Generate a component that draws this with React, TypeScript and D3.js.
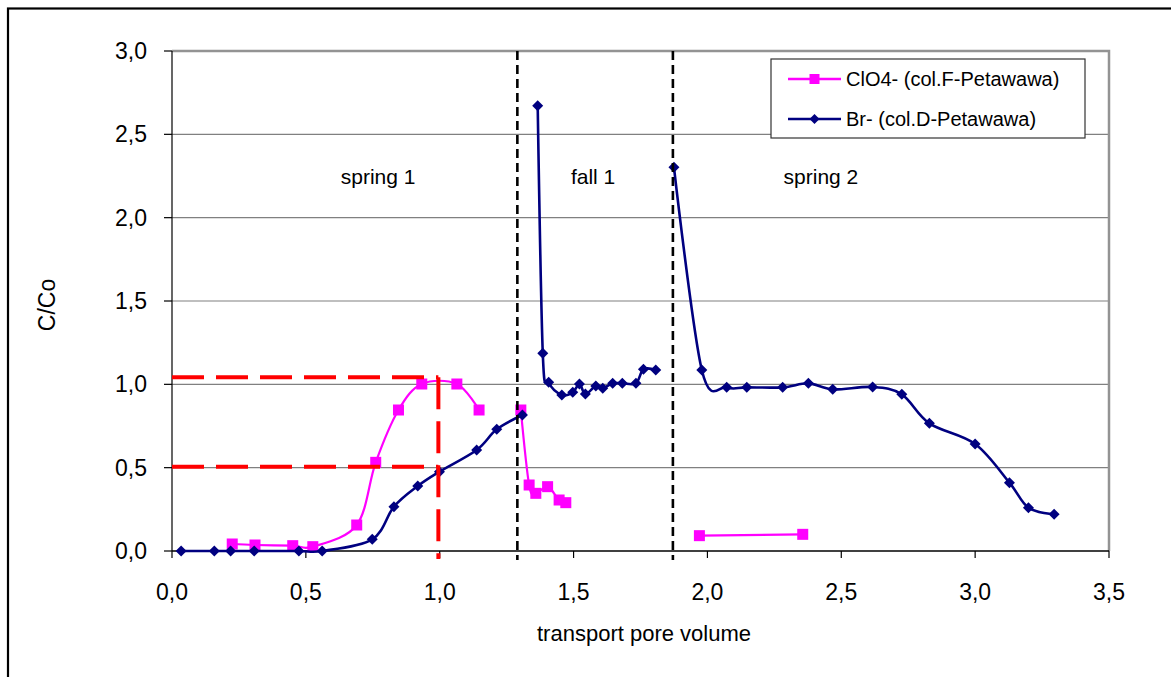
import React from "react";
import * as d3 from "d3";

// ---- data ----
const brX: (number | null)[] = [0.034, 0.158, 0.219, 0.307, 0.474, 0.561, 0.748, 0.829, 0.918, 0.999, 1.138, 1.213, 1.309, null,
  1.366, 1.385, 1.407, 1.456, 1.497, 1.522, 1.544, 1.583, 1.609, 1.646, 1.682, 1.733, 1.761, 1.807, null,
  1.875, 1.979, 2.072, 2.147, 2.281, 2.377, 2.468, 2.617, 2.726, 2.829, 3.0, 3.128, 3.199, 3.295];
const brY: (number | null)[] = [0, 0, 0, 0, 0, 0, 0.07, 0.266, 0.39, 0.476, 0.606, 0.73, 0.816, null,
  2.672, 1.186, 1.012, 0.936, 0.952, 1.002, 0.942, 0.99, 0.976, 1.006, 1.006, 1.006, 1.09, 1.086, null,
  2.302, 1.086, 0.982, 0.982, 0.982, 1.006, 0.97, 0.984, 0.94, 0.766, 0.642, 0.41, 0.26, 0.22];

const clX: (number | null)[] = [0.225, 0.31, 0.451, 0.526, 0.69, 0.761, 0.846, 0.933, 1.064, 1.147, null,
  1.303, 1.334, 1.359, 1.403, 1.446, 1.471, null, 1.97, 2.356];
const clY: (number | null)[] = [0.042, 0.036, 0.032, 0.026, 0.156, 0.532, 0.846, 1.002, 1.002, 0.846, null,
  0.846, 0.396, 0.346, 0.386, 0.306, 0.29, null, 0.092, 0.1];

const xTicks = [0, 0.5, 1.0, 1.5, 2.0, 2.5, 3.0, 3.5];
const yTicks = [0, 0.5, 1.0, 1.5, 2.0, 2.5, 3.0];

const seasonLines = [1.29, 1.871];
const seasonLabels = [
  { text: "spring 1", x: 0.77, y: 2.2 },
  { text: "fall 1", x: 1.573, y: 2.2 },
  { text: "spring 2", x: 2.424, y: 2.2 },
];
const refLevels = [1.042, 0.506];
const refX = 0.995;

const legendItems = [
  { name: "ClO4- (col.F-Petawawa)", color: "#FF00FF", marker: "square" },
  { name: "Br- (col.D-Petawawa)", color: "#000080", marker: "diamond" },
];

const FONT = "'Liberation Sans', Arial, sans-serif";

export default function App() {
  const W = 1171, H = 677;
  const x = d3.scaleLinear().domain([0, 3.5]).range([172, 1109]);
  const y = d3.scaleLinear().domain([0, 3]).range([551, 51]);

  type P = { x: number | null; y: number | null };
  const br: P[] = brX.map((v, i) => ({ x: v, y: brY[i] }));
  const cl: P[] = clX.map((v, i) => ({ x: v, y: clY[i] }));

  const line = d3
    .line<P>()
    .defined((d) => d.x !== null && d.y !== null)
    .x((d) => x(d.x as number))
    .y((d) => y(d.y as number))
    .curve(d3.curveCardinal.tension(0));

  const diamond = (cx: number, cy: number, r: number) =>
    `M${cx},${cy - r}L${cx + r},${cy}L${cx},${cy + r}L${cx - r},${cy}Z`;

  return (
    <svg width={W} height={H} style={{ position: "absolute", left: 0, top: 0, background: "#fff" }} fontFamily={FONT}>
      <rect x={0} y={0} width={W} height={H} fill="#fff" />
      {/* outer frame */}
      <rect x={8} y={8.5} width={1300} height={800} fill="none" stroke="#000" strokeWidth={2.2} />

      {/* gridlines */}
      {yTicks.filter((t) => t > 0 && t < 3).map((t) => (
        <line key={t} x1={x(0)} x2={x(3.5)} y1={y(t)} y2={y(t)} stroke="#808080" strokeWidth={1.2} />
      ))}
      {/* plot border top/right */}
      <path d={`M${x(0)},${y(3)}H${x(3.5)}V${y(0)}`} fill="none" stroke="#939393" strokeWidth={2.5} />

      {/* axes */}
      <line x1={x(0)} x2={x(0)} y1={y(3)} y2={y(0)} stroke="#000" strokeWidth={1.2} />
      <line x1={x(0)} x2={x(3.5)} y1={y(0)} y2={y(0)} stroke="#000" strokeWidth={1.5} />
      {yTicks.map((t) => (
        <g key={"yt" + t}>
          <line x1={x(0) - 8} x2={x(0)} y1={y(t)} y2={y(t)} stroke="#000" strokeWidth={1.2} />
          <text x={147} y={y(t) + 8} textAnchor="end" fontSize={23} fill="#000">
            {t.toFixed(1).replace(".", ",")}
          </text>
        </g>
      ))}
      {xTicks.map((t) => (
        <g key={"xt" + t}>
          <line x1={x(t)} x2={x(t)} y1={y(0)} y2={y(0) + 7} stroke="#000" strokeWidth={1.2} />
          <text x={x(t)} y={600} textAnchor="middle" fontSize={23} fill="#000">
            {t.toFixed(1).replace(".", ",")}
          </text>
        </g>
      ))}
      <text x={644} y={641} textAnchor="middle" fontSize={22} fill="#000">transport pore volume</text>
      <text transform={`translate(55,305) rotate(-90)`} textAnchor="middle" fontSize={23} fill="#000">C/Co</text>

      {/* season labels */}
      {seasonLabels.map((s) => (
        <text key={s.text} x={x(s.x)} y={y(s.y)} textAnchor="middle" fontSize={21} fill="#000">{s.text}</text>
      ))}

      {/* ClO4 series */}
      <path d={line(cl) || ""} fill="none" stroke="#FF00FF" strokeWidth={2.2} />
      {cl.filter((d) => d.x !== null).map((d, i) => (
        <rect key={"c" + i} x={x(d.x as number) - 5.5} y={y(d.y as number) - 5.5} width={11} height={11} fill="#FF00FF" />
      ))}

      {/* Br series */}
      <path d={line(br) || ""} fill="none" stroke="#000080" strokeWidth={2.6} />
      {br.filter((d) => d.x !== null).map((d, i) => (
        <path key={"b" + i} d={diamond(x(d.x as number), y(d.y as number), 5.5)} fill="#000080" />
      ))}

      {/* season dashed lines */}
      {seasonLines.map((v) => (
        <line key={"s" + v} x1={x(v)} x2={x(v)} y1={y(3)} y2={y(0) + 9} stroke="#000" strokeWidth={2.6} strokeDasharray="9,5" />
      ))}

      {/* red reference dashed lines */}
      {refLevels.map((v) => (
        <line key={"r" + v} x1={x(0)} x2={x(refX)} y1={y(v)} y2={y(v)} stroke="#FF0000" strokeWidth={4} strokeDasharray="32,12" />
      ))}
      <line x1={x(refX)} x2={x(refX)} y1={y(refLevels[0])} y2={y(0) + 8} stroke="#FF0000" strokeWidth={4} strokeDasharray="32,12" />

      {/* legend */}
      <rect x={771} y={59} width={314} height={79} fill="#fff" stroke="#333" strokeWidth={1.2} />
      {legendItems.map((it, i) => {
        const ly = 79 + i * 40;
        return (
          <g key={it.name}>
            <line x1={788} x2={841} y1={ly} y2={ly} stroke={it.color} strokeWidth={2.4} />
            {it.marker === "square" ? (
              <rect x={814.5 - 5} y={ly - 5} width={10} height={10} fill={it.color} />
            ) : (
              <path d={diamond(814.5, ly, 5)} fill={it.color} />
            )}
            <text x={846} y={ly + 7} fontSize={20} fill="#000">{it.name}</text>
          </g>
        );
      })}
    </svg>
  );
}
